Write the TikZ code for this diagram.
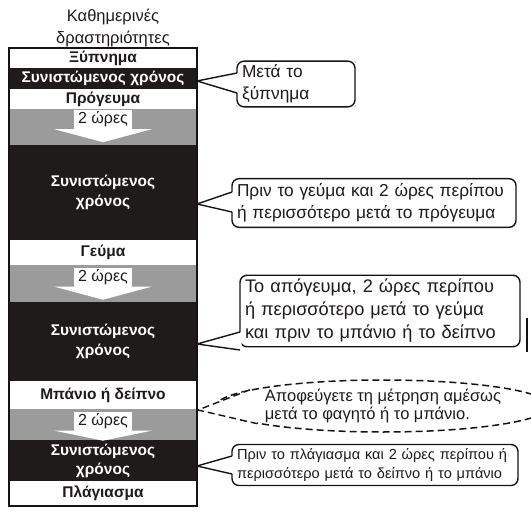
\documentclass[tikz,border=0pt]{standalone}
\usepackage{fontspec}
\setmainfont{Liberation Sans}
\usetikzlibrary{positioning, calc, shapes.geometric}
\definecolor{inkdark}{HTML}{1F1B1A}
\definecolor{inkgrey}{HTML}{9B9B9B}
\definecolor{inkline}{HTML}{141414}
\newcommand{\rowbox}[5]{%
  \node[#4, minimum height=#3pt] (#1) at (103,#2) {#5};}
\newcommand{\hourtag}[3]{%
  \node[hourlabel] (#1) at (103,#2) {2 ώρες};
  \fill[white] ($(#1.south west)+(-19,0)$) -- ($(#1.south east)+(19,0)$)
    -- ($(#1.south)+(0,#3)$) -- cycle;}
\newcommand{\pointer}[4]{%
  \fill[white] ($(#1.west |- #2)+(1.6,-#3)$) -- (#2) -- ($(#1.west |- #2)+(1.6,#4)$) -- cycle;
  \draw[tipline] ($(#1.west |- #2)+(0,-#3)$) -- (#2) -- ($(#1.west |- #2)+(0,#4)$);}

\begin{document}
\begin{tikzpicture}[x=1pt, y=-1pt,
    daycell/.style={fill=white, text=inkdark, minimum width=188pt, inner sep=0pt,
      outer sep=0pt, align=center, font=\fontsize{15.5}{20}\selectfont\bfseries},
    reccell/.style={daycell, fill=inkdark, text=white},
    gapcell/.style={daycell, fill=inkgrey},
    hourlabel/.style={fill=white, text=inkdark, inner xsep=4.5pt, inner ysep=0pt,
      minimum height=19pt, font=\fontsize{16}{16}\selectfont},
    note/.style={draw=inkline, line width=1.4pt, rounded corners=7pt, fill=white,
      text=inkdark, align=left, inner xsep=5pt, inner ysep=4pt, outer sep=0pt,
      anchor=west, font=\fontsize{17.3}{22}\selectfont},
    tipline/.style={draw=inkline, line width=1.4pt, line join=round},
  ]
  \useasboundingbox (0,0) rectangle (531,514);

  % heading
  \node[align=center, text=inkdark, font=\fontsize{16.5}{22}\selectfont]
    (head) at (113,28) {Καθημερινές\\δραστηριότητες};

  % the day, top to bottom
  \rowbox{wake}{58}{20}{daycell}{Ξύπνημα}
  \rowbox{rec1}{78.5}{21}{reccell}{Συνιστώμενος χρόνος}
  \rowbox{bfast}{99}{20}{daycell}{Πρόγευμα}
  \rowbox{gap1}{127}{36}{gapcell}{}
  \rowbox{rec2}{192.5}{95}{reccell}{Συνιστώμενος\\χρόνος}
  \rowbox{lunch}{252.5}{25}{daycell}{Γεύμα}
  \rowbox{gap2}{283.5}{37}{gapcell}{}
  \rowbox{rec3}{341.5}{79}{reccell}{Συνιστώμενος\\χρόνος}
  \rowbox{bath}{395}{28}{daycell}{Μπάνιο ή δείπνο}
  \rowbox{gap3}{424.5}{31}{gapcell}{}
  \rowbox{rec4}{460.5}{41}{reccell, font=\fontsize{15.5}{19}\selectfont\bfseries}{Συνιστώμενος\\χρόνος}
  \rowbox{bed}{493.5}{25}{daycell}{Πλάγιασμα}
  \draw[line width=1.5pt, inkline] (wake.north west) rectangle (bed.south east);

  % two hours between
  \hourtag{h1}{119.5}{13}
  \hourtag{h2}{277}{13}
  \hourtag{h3}{421}{10}

  % notes
  \node[note, text width=108pt, inner ysep=3.5pt] (n1) at (237,84) {Μετά το\\ξύπνημα};
  \node[note, text width=274pt, inner ysep=5pt] (n2) at (232,203)
    {Πριν το γεύμα και 2 ώρες περίπου\\ή περισσότερο μετά το πρόγευμα};
  \node[note, text width=270pt, font=\fontsize{18.2}{23}\selectfont] (n3) at (240,311)
    {Το απόγευμα, 2 ώρες περίπου\\ή περισσότερο μετά το γεύμα\\και πριν το μπάνιο ή το δείπνο};
  \node[ellipse, draw=inkline, line width=1.5pt, dash pattern=on 7pt off 4pt, fill=white,
    text=inkdark, minimum width=285pt, minimum height=52pt, inner sep=0pt, align=left,
    font=\fontsize{16.5}{17.5}\selectfont] (n4) at (383,406)
    {Αποφεύγετε τη μέτρηση αμέσως\\μετά το φαγητό ή το μπάνιο.};
  \node[note, text width=276pt, font=\fontsize{14.6}{19}\selectfont] (n5) at (232,465)
    {Πριν το πλάγιασμα και 2 ώρες περίπου ή\\περισσότερο μετά το δείπνο ή το μπάνιο};

  % pointers to the column
  \coordinate (t1) at (197,81);
  \coordinate (t2) at (197,204);
  \coordinate (t3) at (197,344);
  \coordinate (t4) at (198,410);
  \coordinate (t5) at (197,466);
  \pointer{n1}{t1}{8}{12}
  \pointer{n2}{t2}{12}{8}
  \pointer{n3}{t3}{12}{6}
  \pointer{n5}{t5}{10}{8}
  \fill[white] (n4.173) -- (t4) -- (n4.188) -- cycle;
  \draw[tipline, dash pattern=on 7pt off 4pt] (n4.173) -- (t4) -- (n4.188);

  \draw[line width=1.6pt, inkline] (527,318) -- (527,352);
\end{tikzpicture}
\end{document}
